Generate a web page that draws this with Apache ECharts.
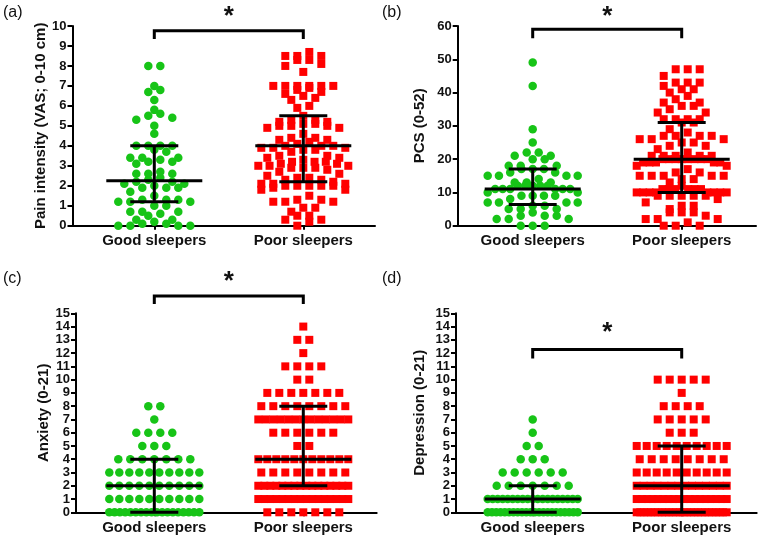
<!DOCTYPE html>
<html>
<head>
<meta charset="utf-8">
<script src="https://cdn.jsdelivr.net/npm/echarts@6/dist/echarts.min.js"></script>
<style>
  html, body { margin: 0; padding: 0; background: #fff; }
  #main { width: 762px; height: 543px; }
</style>
</head>
<body>
<div id="main"></div>
<script>
const FONT = '"Liberation Sans", Arial, Helvetica, sans-serif';
const GREEN = '#17c417';
const RED = '#ff0000';

const categories = ['Good sleepers', 'Poor sleepers'];

// (a) pain intensity
const goodPain = [8, 8, 7, 6.8, 6.7, 6.3, 5.8, 5.6, 5.5, 5.4, 5.3, 5, 4.6, 4, 4, 4, 4, 3.8, 3.7,
  3.4, 3.4, 3.4, 3.3, 3.2, 3.2, 3.1, 2.7, 2.6, 2.6, 2.6, 2.4, 2.3, 2.2, 2.2, 2.1, 2.1, 2, 1.9, 1.9, 1.9,
  1.7, 1.5, 1.3, 1.3, 1.3, 1.2, 1.2, 1.2, 1, 1, 0.7, 0.7, 0.7, 0.6, 0.5, 0.3, 0.3, 0.2, 0.1, 0.1, 0, 0, 0, 0];
const poorPain = [8.7, 8.5, 8.5, 8.5, 8.3, 8.3, 8.1, 8, 7.7,
  7, 7, 7, 7, 7, 7, 6.9, 6.8, 6.7, 6.6, 6.5, 6.4, 6.3, 6, 5.9,
  5.5, 5.3, 5.3, 5.2, 5.2, 5.1, 5.1, 5, 5, 5, 4.9, 4.9, 4.6, 4.4, 4.4, 4.3, 4.3,
  4.2, 4.1, 4, 4, 4, 3.9, 3.9, 3.9, 3.8, 3.8, 3.7, 3.5, 3.5, 3.4, 3.4, 3.3, 3.2, 3.2, 3.2, 3.1, 3.1,
  3, 3, 3, 2.9, 2.9, 2.9, 2.8,
  2.7, 2.6, 2.5, 2.4, 2.4, 2.3, 2.3, 2.2, 2.1, 2.1, 2.1, 2, 2, 2, 2, 2, 1.9, 1.8, 1.8,
  1.5, 1.3, 1.3, 1.2, 1.2, 1.2, 0.9, 0.9, 0.7, 0.5, 0.5, 0.3, 0.3, 0.2, 0];
const painMedian = [2.25, 4.0];
const painQ1 = [1.2, 2.2];
const painQ3 = [4.0, 5.5];

// (b) PCS
const goodPcs = [49, 42, 29, 25, 22, 22, 21, 21, 20, 20, 18, 18, 18, 17, 17, 17, 16, 16, 15, 15, 15, 15,
  14, 13, 13, 13, 12, 12, 12, 12, 12, 11, 11, 11, 11, 11, 11, 10, 10, 9, 9, 9, 9, 8, 7, 7, 7, 7,
  6, 6, 5, 5, 5, 4, 3, 3, 3, 2, 2, 2, 0, 0, 0];
const poorPcs = [47, 47, 47, 45, 43, 43, 43, 42, 41, 41, 40, 39, 38, 37, 37, 36, 36, 35, 34, 34,
  32, 32, 32, 32, 31, 31, 29, 28, 27, 27, 27, 27, 26, 26, 26, 25, 25, 24, 24, 23, 22,
  21, 21, 21, 21, 21, 20, 20, 20, 20, 20, 20, 20, 20, 19, 19, 19, 19, 19, 18, 18, 17,
  16, 16, 15, 15, 15, 15, 15, 14, 14, 13, 12,
  11, 11, 11, 11, 11, 11, 10, 10, 10, 10, 10, 10, 10, 10, 9, 9, 9, 9, 9, 8,
  7, 6, 6, 5, 4, 4, 4, 3, 2, 2, 2, 1, 0, 0, 0];
const pcsMedian = [11, 20];
const pcsQ1 = [6.4, 10];
const pcsQ3 = [17, 31];

// (c) anxiety: number of people at each score 0, 1, 2, ...
const goodAnxietyCounts = [18, 10, 10, 10, 7, 3, 4, 1, 2];
const poorAnxietyCounts = [7, 16, 16, 8, 11, 2, 6, 13, 8, 7, 2, 4, 1, 2, 1];
const anxietyMedian = [2, 4];
const anxietyQ1 = [0, 2];
const anxietyQ3 = [4, 8];

// (d) depression: number of people at each score 0, 1, 2, ...
const goodDepressionCounts = [22, 19, 7, 6, 3, 2, 1, 1];
const poorDepressionCounts = [26, 18, 14, 10, 8, 10, 3, 5, 4, 1, 5];
const depressionMedian = [1, 2];
const depressionQ1 = [0, 0];
const depressionQ3 = [2, 5];

function expand(counts) {
  const out = [];
  counts.forEach((n, score) => { for (let i = 0; i < n; i++) out.push(score); });
  return out;
}

const CAT_GAP = 149; // px between the two columns

const panels = [
  { letter: '(a)', letterX: 3, letterY: 5, name: 'Pain intensity (VAS; 0-10 cm)', nameGap: 21,
    left: 72.5, right: 375, top: 26, bottom: 225.7, goodPx: 154.3, yMax: 10, yStep: 1,
    good: goodPain, poor: poorPain, med: painMedian, q1: painQ1, q3: painQ3,
    legY: 9.35, barY: 9.76, starY: 10.45 },
  { letter: '(b)', letterX: 382, letterY: 5, name: 'PCS (0-52)', nameGap: 30,
    left: 457.7, right: 756, top: 26, bottom: 225.7, goodPx: 532.7, yMax: 60, yStep: 10,
    good: goodPcs, poor: poorPcs, med: pcsMedian, q1: pcsQ1, q3: pcsQ3,
    legY: 56.3, barY: 59, starY: 62.8 },
  { letter: '(c)', letterX: 3, letterY: 271, name: 'Anxiety (0-21)', nameGap: 25,
    left: 76, right: 376.7, top: 313.3, bottom: 512.3, goodPx: 154.3, yMax: 15, yStep: 1,
    good: expand(goodAnxietyCounts), poor: expand(poorAnxietyCounts),
    med: anxietyMedian, q1: anxietyQ1, q3: anxietyQ3,
    legY: 15.7, barY: 16.3, starY: 17.35 },
  { letter: '(d)', letterX: 382, letterY: 271, name: 'Depression (0-21)', nameGap: 29,
    left: 456, right: 756.7, top: 313.3, bottom: 512.3, goodPx: 532.7, yMax: 15, yStep: 1,
    good: expand(goodDepressionCounts), poor: expand(poorDepressionCounts),
    med: depressionMedian, q1: depressionQ1, q3: depressionQ3,
    legY: 11.6, barY: 12.28, starY: 13.5 }
];

// Prism-like column scatter: values falling in the same row are spread
// symmetrically around the column centre, squeezed when the row is too wide
function swarm(values, pxPerUnit, spacing, halfMax, rowH) {
  const rows = {};
  values.forEach(v => {
    const r = Math.round(v * pxPerUnit / rowH);
    (rows[r] = rows[r] || []).push(v);
  });
  const out = [];
  Object.keys(rows).forEach(k => {
    const list = rows[k].slice().sort((a, b) => a - b);
    const n = list.length;
    const step = n > 1 ? Math.min(spacing, 2 * halfMax / (n - 1)) : 0;
    // smallest values go to the outer slots, largest to the middle
    const slots = [];
    let lo = 0, hi = n - 1, left = true;
    while (lo <= hi) {
      if (left) { slots.push(lo); lo++; } else { slots.push(hi); hi--; }
      left = !left;
    }
    list.forEach((v, i) => out.push([(slots[i] - (n - 1) / 2) * step, v]));
  });
  return out;
}

const grids = [], xAxes = [], yAxes = [], series = [], graphics = [];

panels.forEach((p, idx) => {
  const width = p.right - p.left;
  const height = p.bottom - p.top;
  const xMin = 1 - (p.goodPx - p.left) / CAT_GAP;
  const xMax = 2 + (p.right - p.goodPx - CAT_GAP) / CAT_GAP;
  const ppu = height / p.yMax;

  grids.push({ left: p.left, top: p.top, width: width, height: height });

  xAxes.push({
    gridIndex: idx, type: 'value', min: xMin, max: xMax,
    axisLine: { show: true, onZero: false, lineStyle: { color: '#000', width: 2 } },
    axisTick: { show: true, customValues: [1, 2], length: 4, lineStyle: { color: '#000', width: 2 } },
    axisLabel: {
      customValues: [1, 2], margin: 8,
      formatter: v => categories[Math.round(v) - 1] || '',
      color: '#111', fontFamily: FONT, fontWeight: 'bold', fontSize: 15
    },
    splitLine: { show: false }
  });

  yAxes.push({
    gridIndex: idx, type: 'value', min: 0, max: p.yMax, interval: p.yStep,
    name: p.name, nameLocation: 'middle', nameGap: p.nameGap,
    nameTextStyle: { color: '#111', fontFamily: FONT, fontWeight: 'bold', fontSize: 15 },
    axisLine: { show: true, lineStyle: { color: '#000', width: 2 } },
    axisTick: { show: true, length: 5, lineStyle: { color: '#000', width: 2 } },
    axisLabel: { color: '#111', fontFamily: FONT, fontWeight: 'bold', fontSize: 13, margin: 6 },
    splitLine: { show: false }
  });

  const groups = [
    { values: p.good, x: 1, symbol: 'circle', size: 8.5, color: GREEN },
    { values: p.poor, x: 2, symbol: 'rect', size: 8, color: RED }
  ];
  groups.forEach(g => {
    series.push({
      type: 'scatter', xAxisIndex: idx, yAxisIndex: idx,
      symbol: g.symbol, symbolSize: g.size, clip: false, z: 3,
      itemStyle: { color: g.color, opacity: 1 },
      data: swarm(g.values, ppu, 12, 45, 9).map(d => [g.x + d[0] / CAT_GAP, d[1]]),
      silent: true
    });
  });

  // median with interquartile range
  series.push({
    type: 'custom', xAxisIndex: idx, yAxisIndex: idx, z: 5, clip: false, silent: true,
    data: [1, 2].map((x, i) => [x, p.med[i], p.q1[i], p.q3[i]]),
    renderItem: (params, api) => {
      const x = api.value(0);
      const m = api.coord([x, api.value(1)]);
      const lo = api.coord([x, api.value(2)]);
      const hi = api.coord([x, api.value(3)]);
      const st = { stroke: '#000', lineWidth: 3 };
      return {
        type: 'group',
        children: [
          { type: 'line', shape: { x1: m[0] - 48, y1: m[1], x2: m[0] + 48, y2: m[1] }, style: st },
          { type: 'line', shape: { x1: lo[0], y1: lo[1], x2: hi[0], y2: hi[1] }, style: st },
          { type: 'line', shape: { x1: lo[0] - 24, y1: lo[1], x2: lo[0] + 24, y2: lo[1] }, style: st },
          { type: 'line', shape: { x1: hi[0] - 24, y1: hi[1], x2: hi[0] + 24, y2: hi[1] }, style: st }
        ]
      };
    }
  });

  // significance bracket
  series.push({
    type: 'custom', xAxisIndex: idx, yAxisIndex: idx, z: 5, clip: false, silent: true,
    data: [[1, 2]],
    renderItem: (params, api) => {
      const a = api.coord([1, p.legY]);
      const b = api.coord([1, p.barY]);
      const c = api.coord([2, p.barY]);
      const d = api.coord([2, p.legY]);
      const s = api.coord([1.5, p.starY]);
      return {
        type: 'group',
        children: [
          { type: 'polyline', shape: { points: [a, b, c, d] },
            style: { stroke: '#000', lineWidth: 3, fill: null } },
          { type: 'text', x: s[0], y: s[1],
            style: { text: '*', fill: '#111', font: 'bold 26px ' + FONT,
              align: 'center', verticalAlign: 'middle' } }
        ]
      };
    }
  });

  graphics.push({
    type: 'text', left: p.letterX, top: p.letterY,
    style: { text: p.letter, fill: '#111', font: '16px ' + FONT }
  });
});

const chart = echarts.init(document.getElementById('main'), null, { renderer: 'canvas' });
chart.setOption({
  backgroundColor: '#fff',
  animation: false,
  grid: grids,
  xAxis: xAxes,
  yAxis: yAxes,
  series: series,
  graphic: graphics
});
</script>
</body>
</html>
